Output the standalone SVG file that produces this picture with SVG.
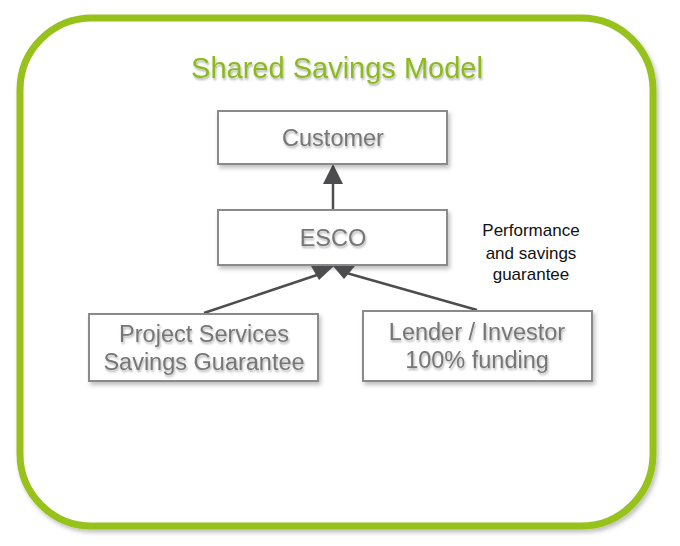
<svg xmlns="http://www.w3.org/2000/svg" width="680" height="546" viewBox="0 0 680 546">
<defs>
<filter id="sh" x="-10%" y="-10%" width="130%" height="130%">
<feDropShadow dx="2" dy="3" stdDeviation="2" flood-color="#000" flood-opacity="0.25"/>
</filter>
<filter id="tsh" x="-10%" y="-20%" width="130%" height="150%">
<feDropShadow dx="1" dy="2" stdDeviation="1.2" flood-color="#000" flood-opacity="0.3"/>
</filter>
</defs>
<style>
.box{fill:#fff;stroke:#8a8a8a;stroke-width:2;filter:url(#sh)}
.bt{font-family:"Liberation Sans",Arial,sans-serif;font-size:23.5px;fill:#767676;text-anchor:middle;filter:url(#tsh)}
.ln{stroke:#4d4d4f;stroke-width:2.5;fill:none}
.ah{fill:#4d4d4f}
</style>
<rect width="680" height="546" fill="#fff"/>
<g id="frame">
<rect x="20" y="18" width="633" height="508" rx="72" ry="72" fill="#fff" stroke="#97c21c" stroke-width="7" filter="url(#sh)"/>
<text x="337" y="78" font-family="Liberation Sans,Arial,sans-serif" font-size="29" fill="#8cba1e" text-anchor="middle" filter="url(#tsh)">Shared Savings Model</text>
</g>
<g id="connectors">
<line class="ln" x1="333" y1="209" x2="333" y2="180"/>
<path class="ah" d="M333,164 l-10,20 h20 z"/>
<line class="ln" x1="204" y1="313" x2="320" y2="274"/>
<line class="ln" x1="477" y1="310" x2="343" y2="272"/>
</g>
<g id="customer">
<rect class="box" x="218" y="111" width="229" height="53"/>
<text class="bt" x="333" y="146">Customer</text>
</g>
<g id="esco">
<rect class="box" x="218" y="210" width="229" height="55"/>
<text class="bt" x="333" y="246">ESCO</text>
</g>
<g id="arrowheads">
<path class="ah" d="M311,266 h23 l-15,14 z"/>
<path class="ah" d="M333,266 h22 l-11,13 z"/>
</g>
<g id="project">
<rect class="box" x="89" y="314" width="229" height="67"/>
<text class="bt" x="204" y="342">Project Services</text>
<text class="bt" x="204" y="370">Savings Guarantee</text>
</g>
<g id="lender">
<rect class="box" x="363" y="311" width="229" height="70"/>
<text class="bt" x="477" y="340">Lender / Investor</text>
<text class="bt" x="477" y="368">100% funding</text>
</g>
<g id="note" font-family="Liberation Sans,Arial,sans-serif" font-size="17" fill="#111" text-anchor="middle">
<text x="531" y="236">Performance</text>
<text x="531" y="259">and savings</text>
<text x="531" y="280">guarantee</text>
</g>
</svg>
